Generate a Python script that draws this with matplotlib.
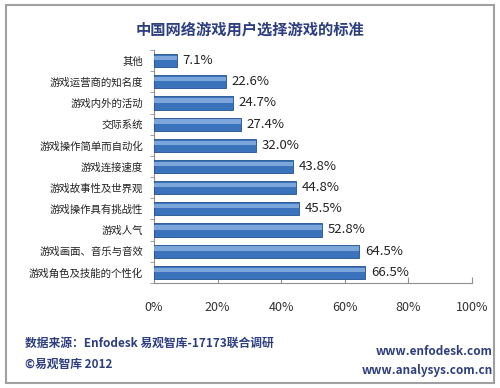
import matplotlib.pyplot as plt
from matplotlib.patches import Rectangle

plt.rcParams['font.family'] = ['Noto Sans CJK SC', 'DejaVu Sans']

categories = ['其他', '游戏运营商的知名度', '游戏内外的活动', '交际系统', '游戏操作简单而自动化',
              '游戏连接速度', '游戏故事性及世界观', '游戏操作具有挑战性', '游戏人气',
              '游戏画面、音乐与音效', '游戏角色及技能的个性化']
values = [7.1, 22.6, 24.7, 27.4, 32.0, 43.8, 44.8, 45.5, 52.8, 64.5, 66.5]
xticks = [0, 20, 40, 60, 80, 100]

fig = plt.figure(figsize=(5, 3.88), dpi=100)
# outer frame
fig.patches.append(Rectangle((0.012, 0.012), 0.976, 0.975, transform=fig.transFigure,
                             fill=False, edgecolor='#a0a0a0', linewidth=1.5))

ax = fig.add_axes([0.308, 0.271, 0.636, 0.600])
y = list(range(len(categories)))[::-1]
ax.barh(y, values, height=0.62, color='#3a72bb', edgecolor='#23508f', linewidth=0.6, zorder=3)
# highlight on upper part of each bar
ax.barh([v + 0.12 for v in y], values, height=0.2, color='#8db4e2', linewidth=0, zorder=4, alpha=0.8)
for yi, v in zip(y, values):
    ax.text(v + 1.8, yi, f'{v:.1f}%', va='center', ha='left', fontsize=9.5, color='#222222')

ax.set_xlim(0, 100)
ax.set_ylim(-0.5, len(categories) - 0.5)
ax.set_xticks(xticks)
ax.set_xticklabels([f'{t}%' for t in xticks], fontsize=9, color='#333333')
ax.set_yticks(y)
ax.set_yticklabels(categories, fontsize=7.5, color='#222222')
ax.set_yticks([i - 0.5 for i in range(len(categories) + 1)], minor=True)
ax.tick_params(axis='y', which='major', length=0, pad=8)
ax.tick_params(axis='y', which='minor', length=3, direction='out', color='#909090')
ax.tick_params(axis='x', length=4, direction='in', color='#909090', pad=13)
for s in ['top', 'right']:
    ax.spines[s].set_visible(False)
for s in ['left', 'bottom']:
    ax.spines[s].set_color('#909090')
    ax.spines[s].set_linewidth(0.8)

fig.text(0.5, 0.925, '中国网络游戏用户选择游戏的标准', ha='center', va='center',
         fontsize=11, fontweight='bold', color='#2e3f80')
fig.text(0.05, 0.115, '数据来源：Enfodesk 易观智库-17173联合调研', ha='left', va='center',
         fontsize=8.5, fontweight='bold', color='#2e3f80')
fig.text(0.05, 0.062, '©易观智库 2012', ha='left', va='center',
         fontsize=8.5, fontweight='bold', color='#2e3f80')
fig.text(0.985, 0.093, 'www.enfodesk.com', ha='right', va='center',
         fontsize=8.5, fontweight='bold', color='#2e3f80')
fig.text(0.985, 0.044, 'www.analysys.com.cn', ha='right', va='center',
         fontsize=8.5, fontweight='bold', color='#2e3f80')

fig.savefig('out.png', dpi=100)
